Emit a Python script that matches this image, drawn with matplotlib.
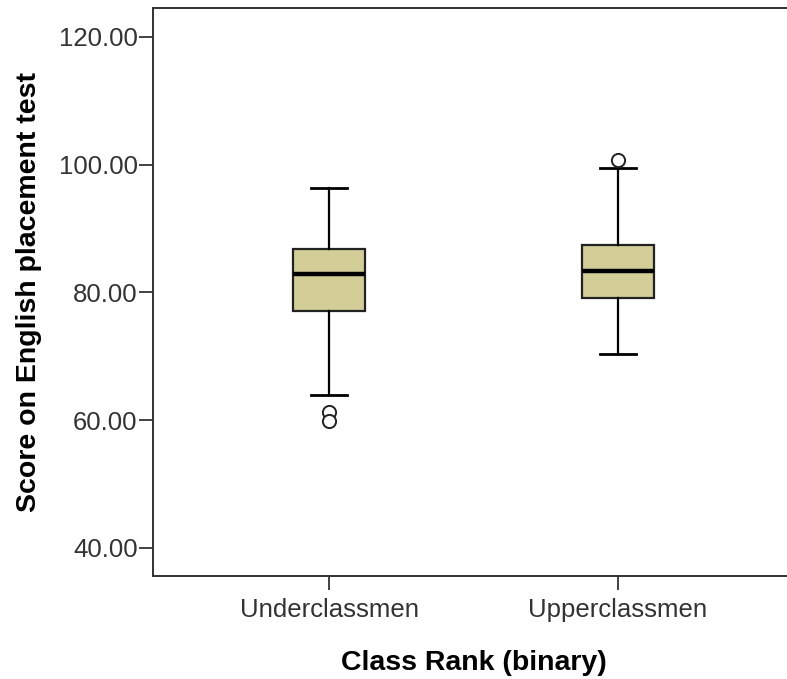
import numpy as np
import matplotlib
matplotlib.use("Agg")
import matplotlib.pyplot as plt

plt.rcParams['font.family'] = ['Liberation Sans', 'DejaVu Sans']

# values
groups = ["Underclassmen", "Upperclassmen"]
q1 = [77.1, 79.1]
median = [82.9, 83.4]
q3 = [86.8, 87.4]
whisker_low = [63.9, 70.3]
whisker_high = [96.3, 99.5]
outliers = [[61.2, 59.9], [100.7]]

yticks = [40, 60, 80, 100, 120]

stats = []
for i, name in enumerate(groups):
    stats.append(dict(label=name, q1=q1[i], med=median[i], q3=q3[i],
                      whislo=whisker_low[i], whishi=whisker_high[i],
                      fliers=outliers[i]))

fig = plt.figure(figsize=(7.87, 6.79), dpi=100)
ax = fig.add_axes([153/787, 1 - 576/679, (794 - 153)/787, (576 - 8)/679])

ax.bxp(stats, positions=[1, 2], widths=0.25, patch_artist=True,
       boxprops=dict(facecolor="#d3ce98", edgecolor="#222222", linewidth=1.6),
       medianprops=dict(color="black", linewidth=3.2),
       whiskerprops=dict(color="black", linewidth=1.6),
       capprops=dict(color="black", linewidth=2.0),
       capwidths=0.125,
       flierprops=dict(marker="o", markerfacecolor="white",
                       markeredgecolor="#222222", markersize=9.5,
                       markeredgewidth=1.4))

ax.set_xlim(0.391, 2.609)
ax.set_ylim(35.6, 124.5)
ax.set_yticks(yticks)
ax.set_yticklabels(["%.2f" % v for v in yticks])
ax.set_xticks([1, 2])
ax.set_xticklabels(groups)

for s in ax.spines.values():
    s.set_linewidth(1.4)
    s.set_color("#333333")

ax.tick_params(axis="both", direction="out", length=10, width=1.3,
               color="#333333", labelsize=18.5, labelcolor="#333333", pad=1)
ax.tick_params(axis="x", pad=6)

ax.set_ylabel("Score on English placement test", fontsize=20.5,
              fontweight="bold", labelpad=12)
ax.set_xlabel("Class Rank (binary)", fontsize=20.5, fontweight="bold",
              labelpad=20)

fig.savefig("out.png", dpi=100)
